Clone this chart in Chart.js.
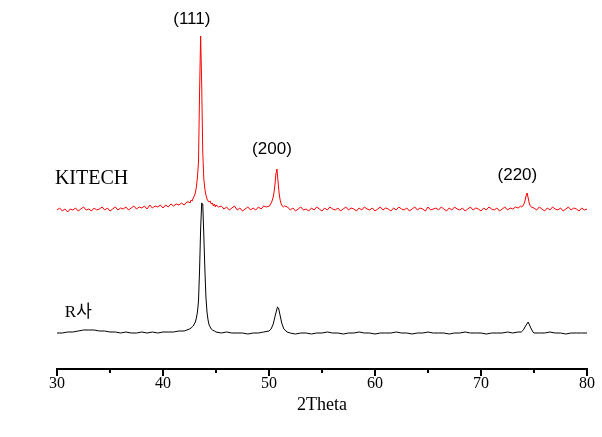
<!DOCTYPE html>
<html>
<head>
<meta charset="utf-8">
<script src="https://cdn.jsdelivr.net/npm/chart.js@4"></script>
<style>
  html, body { margin: 0; padding: 0; background: #fff; }
  #wrap { width: 602px; height: 437px; position: relative; }
</style>
</head>
<body>
<div id="wrap"><canvas id="xrdChart"></canvas></div>
<script>
// 2Theta positions and intensities (offset, a.u.)
const kitechTheta = [
  30.00, 30.25, 30.50, 30.75, 31.00, 31.25, 31.50, 31.75, 32.00, 32.25,
  32.50, 32.75, 33.00, 33.25, 33.50, 33.75, 34.00, 34.25, 34.50, 34.75,
  35.00, 35.25, 35.50, 35.75, 36.00, 36.25, 36.50, 36.75, 37.00, 37.25,
  37.50, 37.75, 38.00, 38.25, 38.50, 38.75, 39.00, 39.25, 39.50, 39.75,
  40.00, 40.25, 40.50, 40.75, 41.00, 41.25, 41.50, 41.75, 42.00, 42.25,
  42.45, 42.55, 42.65, 42.75, 42.85, 42.95, 43.05, 43.15, 43.25, 43.35,
  43.45, 43.55, 43.65, 43.75, 43.85, 43.95, 44.05, 44.15, 44.25, 44.35,
  44.45, 44.55, 44.65, 44.75, 44.85, 44.95,
  45.00, 45.25, 45.50, 45.75, 46.00, 46.25, 46.50, 46.75, 47.00, 47.25,
  47.50, 47.75, 48.00, 48.25, 48.50, 48.75, 49.00, 49.25, 49.50, 49.75,
  50.05, 50.15, 50.25, 50.35, 50.45, 50.55, 50.65, 50.75, 50.85, 50.95,
  51.05, 51.15, 51.25, 51.35, 51.45,
  51.75, 52.00, 52.25, 52.50, 52.75, 53.00, 53.25, 53.50, 53.75,
  54.00, 54.25, 54.50, 54.75, 55.00, 55.25, 55.50, 55.75, 56.00, 56.25,
  56.50, 56.75, 57.00, 57.25, 57.50, 57.75, 58.00, 58.25, 58.50, 58.75,
  59.00, 59.25, 59.50, 59.75, 60.00, 60.25, 60.50, 60.75, 61.00, 61.25,
  61.50, 61.75, 62.00, 62.25, 62.50, 62.75, 63.00, 63.25, 63.50, 63.75,
  64.00, 64.25, 64.50, 64.75, 65.00, 65.25, 65.50, 65.75, 66.00, 66.25,
  66.50, 66.75, 67.00, 67.25, 67.50, 67.75, 68.00, 68.25, 68.50, 68.75,
  69.00, 69.25, 69.50, 69.75, 70.00, 70.25, 70.50, 70.75, 71.00, 71.25,
  71.50, 71.75, 72.00, 72.25, 72.50, 72.75, 73.00, 73.25, 73.50, 73.75,
  73.85, 73.95, 74.05, 74.15, 74.25, 74.35, 74.45, 74.55, 74.65, 74.75,
  75.00, 75.25, 75.50, 75.75, 76.00, 76.25, 76.50, 76.75, 77.00, 77.25,
  77.50, 77.75, 78.00, 78.25, 78.50, 78.75, 79.00, 79.25, 79.50, 79.75, 80.00
];
const kitechIntensity = [
  157, 159, 156, 158, 155, 158, 157, 159, 156, 158,
  160, 157, 158, 156, 159, 157, 158, 160, 157, 159,
  156, 158, 160, 157, 159, 158, 160, 157, 159, 161,
  158, 160, 159, 161, 158, 162, 159, 161, 160, 162,
  159, 162, 160, 163, 161, 163, 162, 164, 162, 165,
  165, 164, 167, 166, 169, 171, 174, 180, 190, 205,
  275, 331, 282, 215, 188, 178, 172, 168, 166, 165,
  166, 163, 164, 161, 163, 160,
  162, 160, 161, 158, 160, 157, 159, 161, 157, 159,
  156, 158, 160, 157, 159, 157, 160, 158, 161, 160,
  161, 163, 165, 168, 173, 181, 193, 198, 186, 174,
  167, 163, 161, 160, 161,
  160, 157, 159, 156, 158, 160, 157, 158, 156,
  159, 157, 160, 158, 156, 159, 157, 160, 158, 157,
  159, 156, 158, 160, 157, 159, 158, 156, 159, 157,
  160, 158, 157, 159, 156, 158, 160, 157, 159, 158,
  156, 159, 157, 160, 158, 157, 159, 156, 158, 160,
  157, 159, 158, 156, 160, 157, 158, 159, 157, 160,
  158, 156, 159, 157, 160, 158, 157, 159, 156, 158,
  160, 157, 159, 158, 156, 159, 157, 160, 158, 157,
  159, 156, 158, 160, 157, 159, 158, 160, 159, 161,
  160, 161, 163, 166, 171, 174, 169, 164, 161, 160,
  159, 157, 160, 158, 156, 159, 157, 160, 158, 157,
  159, 156, 158, 160, 157, 159, 158, 156, 159, 157, 158
];

const rTheta = [
  30.0, 30.5, 31.0, 31.5, 32.0, 32.5, 33.0, 33.5, 34.0, 34.5,
  35.0, 35.5, 36.0, 36.5, 37.0, 37.5, 38.0, 38.5, 39.0, 39.5,
  40.0, 40.5, 41.0, 41.5, 42.0, 42.5,
  42.65, 42.75, 42.85, 42.95, 43.05, 43.15, 43.25, 43.35, 43.45, 43.55,
  43.65, 43.75, 43.85, 43.95, 44.05, 44.15, 44.25, 44.35, 44.45, 44.55,
  44.65, 44.85,
  45.0, 45.5, 46.0, 46.5, 47.0, 47.5, 48.0, 48.5, 49.0, 49.5,
  50.0, 50.2, 50.4, 50.6, 50.8, 50.9, 51.0, 51.2, 51.4, 51.7,
  52.0, 52.5, 53.0, 53.5, 54.0, 54.5, 55.0, 55.5, 56.0, 56.5,
  57.0, 57.5, 58.0, 58.5, 59.0, 59.5, 60.0, 60.5, 61.0, 61.5,
  62.0, 62.5, 63.0, 63.5, 64.0, 64.5, 65.0, 65.5, 66.0, 66.5,
  67.0, 67.5, 68.0, 68.5, 69.0, 69.5, 70.0, 70.5, 71.0, 71.5,
  72.0, 72.5, 73.0, 73.5,
  73.8, 74.0, 74.2, 74.45, 74.7, 74.9,
  75.0, 75.5, 76.0, 76.5, 77.0, 77.5, 78.0, 78.5, 79.0, 79.5, 80.0
];
const rIntensity = [
  34, 34, 35, 35, 36, 37, 37, 37, 36, 36,
  35, 35, 34, 35, 34, 34, 35, 34, 35, 34,
  35, 35, 35, 36, 36, 38,
  39, 40, 41, 43, 45, 49, 55, 66, 97, 138,
  164, 163, 132, 98, 70, 55, 47, 42, 40, 38,
  37, 36,
  35, 34, 35, 34, 34, 34, 33, 34, 34, 35,
  36, 38, 43, 52, 60, 59, 54, 44, 38, 35,
  34, 33, 34, 34, 33, 34, 34, 35, 34, 34,
  33, 34, 34, 35, 34, 34, 33, 34, 34, 34,
  35, 34, 34, 33, 34, 34, 35, 34, 34, 34,
  33, 34, 34, 35, 34, 34, 34, 33, 34, 34,
  34, 35, 34, 35,
  35, 37, 41, 45, 39, 35,
  34, 34, 34, 35, 34, 34, 33, 34, 34, 34, 34
];

const xTickLabels = ['30', '40', '50', '60', '70', '80'];

// peak indices and sample names, anchored in data coordinates
const peakLabels = ['(111)', '(200)', '(220)'];
const peakLabelTheta = [42.72, 50.28, 73.43];
const peakLabelLevel = [343, 213, 187];
const sampleNames = ['KITECH', 'R사'];
const sampleNameTheta = [29.8, 30.74];
const sampleNameLevel = [183, 50];

const toPoints = (xs, ys) => xs.map((x, i) => ({ x: x, y: ys[i] }));

const annotate = {
  id: 'annotate',
  afterDraw(chart) {
    const { ctx, scales: { x, y } } = chart;
    ctx.save();
    ctx.fillStyle = '#000';
    ctx.textBaseline = 'alphabetic';

    // axis ticks: long at labelled values, short in between
    ctx.strokeStyle = '#000';
    ctx.lineWidth = 2;
    const axisY = chart.chartArea.bottom;
    for (let v = 30; v <= 80; v += 5) {
      const px = Math.round(x.getPixelForValue(v));
      const len = v % 10 === 0 ? 7 : 4;
      ctx.beginPath();
      ctx.moveTo(px, axisY);
      ctx.lineTo(px, axisY + len);
      ctx.stroke();
    }

    ctx.font = '17px "Liberation Sans", Arial, sans-serif';
    ctx.textAlign = 'center';
    peakLabels.forEach((t, i) => {
      ctx.fillText(t, x.getPixelForValue(peakLabelTheta[i]), y.getPixelForValue(peakLabelLevel[i]));
    });

    ctx.textAlign = 'left';
    ctx.font = '20px "Liberation Serif", "Times New Roman", serif';
    ctx.fillText(sampleNames[0], x.getPixelForValue(sampleNameTheta[0]), y.getPixelForValue(sampleNameLevel[0]));
    ctx.font = '17px "Liberation Serif", "Noto Sans CJK KR", serif';
    ctx.fillText(sampleNames[1], x.getPixelForValue(sampleNameTheta[1]), y.getPixelForValue(sampleNameLevel[1]));
    ctx.restore();
  }
};

const chart = new Chart(document.getElementById('xrdChart').getContext('2d'), {
  type: 'line',
  data: {
    datasets: [
      {
        label: sampleNames[0],
        data: toPoints(kitechTheta, kitechIntensity),
        borderColor: '#ff0000',
        borderWidth: 1,
        pointRadius: 0,
        tension: 0
      },
      {
        label: sampleNames[1],
        data: toPoints(rTheta, rIntensity),
        borderColor: '#000000',
        borderWidth: 1,
        pointRadius: 0,
        tension: 0
      }
    ]
  },
  options: {
    responsive: true,
    maintainAspectRatio: false,
    animation: false,
    layout: { padding: { left: 57, right: 15, top: 0, bottom: 0 } },
    plugins: {
      legend: { display: false },
      tooltip: { enabled: false }
    },
    scales: {
      x: {
        type: 'linear',
        min: 30,
        max: 80,
        grid: { display: false, drawTicks: false },
        border: { display: true, color: '#000', width: 2 },
        ticks: {
          stepSize: 10,
          padding: 5,
          color: '#000',
          font: { family: '"Liberation Serif", "Times New Roman", serif', size: 16 },
          callback: (v) => xTickLabels.includes(String(v)) ? String(v) : ''
        },
        title: {
          display: true,
          text: '2Theta',
          color: '#000',
          font: { family: '"Liberation Serif", "Times New Roman", serif', size: 18 },
          padding: { top: 0, bottom: 21 }
        },
        afterFit: (scale) => { scale.height = 68; }
      },
      y: {
        display: false,
        min: -2,
        max: 367
      }
    }
  },
  plugins: [annotate]
});
</script>
</body>
</html>
